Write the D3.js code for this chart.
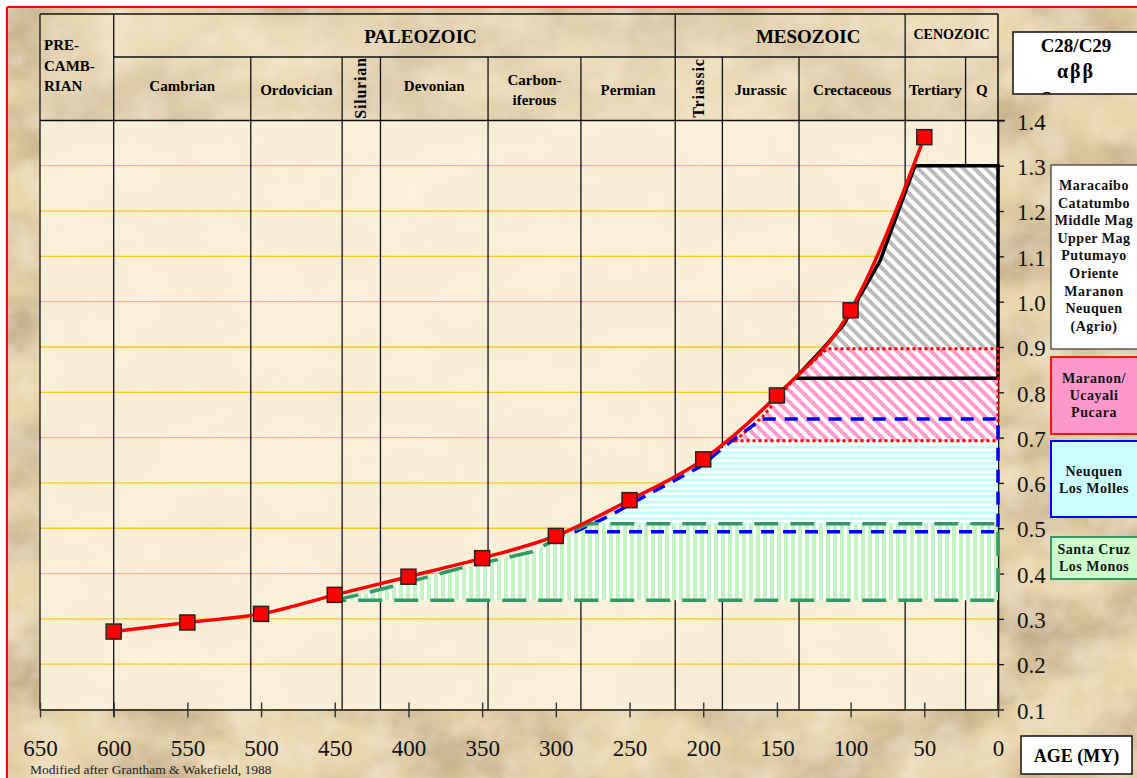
<!DOCTYPE html>
<html>
<head>
<meta charset="utf-8">
<script src="https://cdn.jsdelivr.net/npm/d3@7"></script>
<style>
  body { margin: 0; background: #fff; }
  svg { display: block; font-family: 'Liberation Serif', 'Times New Roman', serif; }
</style>
</head>
<body>
<div id="chart"></div>
<script>
// sterane ratio through time, with basin bands
const ages = [600, 550, 500, 450, 400, 350, 300, 250, 200, 150, 100, 50]
const steraneRatio = [0.272, 0.292, 0.311, 0.353, 0.393, 0.434, 0.483, 0.562, 0.652, 0.793, 0.981, 1.363]

const ageTicks = [650, 600, 550, 500, 450, 400, 350, 300, 250, 200, 150, 100, 50, 0]
const ratioTicks = [0.1, 0.2, 0.3, 0.4, 0.5, 0.6, 0.7, 0.8, 0.9, 1.0, 1.1, 1.2, 1.3, 1.4]
const gridRatios = [0.2, 0.3, 0.4, 0.5, 0.6, 0.7, 0.8, 0.9, 1.0, 1.1, 1.2, 1.3]

const eraNames = ['PALEOZOIC', 'MESOZOIC', 'CENOZOIC']
const eraBounds = [600, 219, 63, 0]
const periodNames = ['Cambrian', 'Ordovician', 'Silurian', 'Devonian', 'Carbon-|iferous', 'Permian', 'Triassic', 'Jurassic', 'Crectaceous', 'Tertiary', 'Q']
const periodBounds = [600, 507, 445, 419, 346, 283, 219, 187, 135, 63, 22, 0]
const rotatedPeriods = ['Silurian', 'Triassic']

// [age, ratio] outlines of the basin bands
const greyBand = [[137.7, 0.831], [118.7, 0.897], [105, 0.948], [80, 1.09], [56.3, 1.30], [0, 1.30], [0, 0.831]]
const pinkBand = [[178.5, 0.693], [160, 0.745], [138, 0.831], [125, 0.87], [116, 0.896], [0, 0.896], [0, 0.693]]
const blueBand = [[287, 0.492], [265, 0.525], [236, 0.577], [202, 0.636], [180, 0.695], [160, 0.741], [0, 0.741], [0, 0.492]]
const greenBand = [[450, 0.341], [430, 0.356], [412, 0.371], [361, 0.415], [316, 0.448], [288, 0.496], [277, 0.51], [0, 0.51], [0, 0.341]]

const greyBasins = ['Maracaibo', 'Catatumbo', 'Middle Mag', 'Upper Mag', 'Putumayo', 'Oriente', 'Maranon', 'Neuquen', '(Agrio)']
const pinkBasins = ['Maranon/', 'Ucayali', 'Pucara']
const blueBasins = ['Neuquen', 'Los Molles']
const greenBasins = ['Santa Cruz', 'Los Monos']

const width = 1137
const height = 778
const headerTop = 14
const headerMid = 57

var x = d3.scaleLinear().domain([650, 0]).range([40, 998])
var y = d3.scaleLinear().domain([0.1, 1.4]).range([709.5, 120.4])

var svg = d3.select('#chart')
  .append('svg')
  .attr('width', width)
  .attr('height', height)

var defs = svg.append('defs')

// parchment texture
var paper = defs.append('filter')
  .attr('id', 'paper')
  .attr('x', 0).attr('y', 0).attr('width', '100%').attr('height', '100%')
paper.append('feTurbulence')
  .attr('type', 'fractalNoise')
  .attr('baseFrequency', '0.009 0.014')
  .attr('numOctaves', 5)
  .attr('seed', 11)
paper.append('feColorMatrix')
  .attr('type', 'matrix')
  .attr('values', '0 0 0 0 0.55  0 0 0 0 0.42  0 0 0 0 0.25  2.0 0 0 0 -0.68')

var speck = defs.append('filter')
  .attr('id', 'speck')
  .attr('x', 0).attr('y', 0).attr('width', '100%').attr('height', '100%')
speck.append('feTurbulence')
  .attr('type', 'fractalNoise')
  .attr('baseFrequency', '0.03')
  .attr('numOctaves', 3)
  .attr('seed', 4)
speck.append('feColorMatrix')
  .attr('type', 'matrix')
  .attr('values', '0 0 0 0 1  0 0 0 0 0.96  0 0 0 0 0.9  1.4 0 0 0 -0.55')

function addStripes(id, color, size, stripe, angle) {
  var p = defs.append('pattern')
    .attr('id', id)
    .attr('patternUnits', 'userSpaceOnUse')
    .attr('width', size)
    .attr('height', size)
    .attr('patternTransform', 'rotate(' + angle + ')')
  p.append('rect').attr('width', size).attr('height', size).attr('fill', '#fff')
  p.append('rect').attr('width', stripe).attr('height', size).attr('fill', color)
}
addStripes('hatchGrey', '#bcbcbc', 8, 4, -45)
addStripes('hatchPink', '#ff9ccf', 8, 4, -45)
addStripes('hatchBlue', '#c4ffff', 5.5, 3, 90)
addStripes('hatchGreen', '#c4f3c4', 7, 4, 0)

// background
svg.append('rect').attr('width', width).attr('height', height).attr('fill', '#fff')
svg.append('rect').attr('x', 7).attr('y', 7).attr('width', width - 7).attr('height', height - 7).attr('fill', '#e9d6ae')
svg.append('rect').attr('x', 7).attr('y', 7).attr('width', width - 7).attr('height', height - 7).attr('filter', 'url(#paper)')
svg.append('rect').attr('x', 7).attr('y', 7).attr('width', width - 7).attr('height', height - 7).attr('filter', 'url(#speck)').attr('opacity', 0.55)
svg.append('line').attr('x1', 7).attr('x2', width).attr('y1', 7).attr('y2', 7).attr('stroke', '#ff0000').attr('stroke-width', 2)
svg.append('line').attr('x1', 7).attr('x2', 7).attr('y1', 7).attr('y2', height).attr('stroke', '#ff0000').attr('stroke-width', 2)

// header and plot panels
svg.append('rect')
  .attr('x', x(650)).attr('y', headerTop)
  .attr('width', x(0) - x(650)).attr('height', y(1.4) - headerTop)
  .attr('fill', '#f6ebd0').attr('opacity', 0.35)
svg.append('rect')
  .attr('x', x(650)).attr('y', y(1.4))
  .attr('width', x(0) - x(650)).attr('height', y(0.1) - y(1.4))
  .attr('fill', '#fdf3e0').attr('opacity', 0.86)

// gold grid lines
svg.selectAll('.grid')
  .data(gridRatios)
  .enter()
  .append('line')
  .attr('class', 'grid')
  .attr('x1', x(650)).attr('x2', x(0))
  .attr('y1', y).attr('y2', y)
  .attr('stroke', '#f7c81e')
  .attr('stroke-width', 1.3)

// period boundaries run through header and plot
var eraLines = eraBounds.slice(0, -1)
svg.selectAll('.periodLine')
  .data(periodBounds.slice(1, -1))
  .enter()
  .append('line')
  .attr('class', 'periodLine')
  .attr('x1', x).attr('x2', x)
  .attr('y1', function(d) { return eraLines.indexOf(d) >= 0 ? headerTop : headerMid })
  .attr('y2', y(0.1))
  .attr('stroke', '#111')
  .attr('stroke-width', 1.3)
svg.append('line').attr('x1', x(600)).attr('x2', x(600)).attr('y1', headerTop).attr('y2', y(0.1) + 7).attr('stroke', '#111').attr('stroke-width', 1.3)
svg.append('line').attr('x1', x(650)).attr('x2', x(650)).attr('y1', headerTop).attr('y2', y(0.1)).attr('stroke', '#111').attr('stroke-width', 1.3)
svg.append('line').attr('x1', x(0)).attr('x2', x(0)).attr('y1', headerTop).attr('y2', y(0.1)).attr('stroke', '#111').attr('stroke-width', 1.5)
svg.append('line').attr('x1', x(650)).attr('x2', x(0)).attr('y1', headerTop).attr('y2', headerTop).attr('stroke', '#111').attr('stroke-width', 1.3)
svg.append('line').attr('x1', x(600)).attr('x2', x(0)).attr('y1', headerMid).attr('y2', headerMid).attr('stroke', '#111').attr('stroke-width', 1.3)
svg.append('line').attr('x1', x(650)).attr('x2', x(0) + 7).attr('y1', y(1.4)).attr('y2', y(1.4)).attr('stroke', '#111').attr('stroke-width', 1.5)

// header labels
svg.selectAll('.pre')
  .data(['PRE-', 'CAMB-', 'RIAN'])
  .enter()
  .append('text')
  .attr('class', 'pre')
  .attr('x', x(650) + 4)
  .attr('y', function(d, i) { return 50 + i * 20.5 })
  .attr('font-size', 15).attr('font-weight', 'bold')
  .text(function(d) { return d })

var eraShift = [26, 18, 0]
svg.selectAll('.era')
  .data(eraNames)
  .enter()
  .append('text')
  .attr('class', 'era')
  .attr('x', function(d, i) { return (x(eraBounds[i]) + x(eraBounds[i + 1])) / 2 + eraShift[i] })
  .attr('y', function(d, i) { return i === 2 ? 39 : 43 })
  .attr('text-anchor', 'middle')
  .attr('font-size', function(d, i) { return i === 2 ? 14 : 19 })
  .attr('font-weight', 'bold')
  .text(function(d) { return d })

var periodText = svg.selectAll('.period')
  .data(periodNames)
  .enter()
  .append('text')
  .attr('class', 'period')
  .attr('font-size', 15)
  .attr('font-weight', 'bold')
  .attr('text-anchor', 'middle')
  .attr('transform', function(d, i) {
    var cx = (x(periodBounds[i]) + x(periodBounds[i + 1])) / 2
    if (rotatedPeriods.indexOf(d) >= 0) {
      return 'translate(' + (cx + 5) + ',88) rotate(-90)'
    }
    return 'translate(' + cx + ',' + (d === 'Cambrian' || d === 'Devonian' ? 91 : 95) + ')'
  })
periodText.each(function(d) {
  var parts = d.split('|')
  var t = d3.select(this)
  if (parts.length > 1) {
    t.append('tspan').attr('x', 0).attr('y', -10).text(parts[0])
    t.append('tspan').attr('x', 0).attr('y', 10).text(parts[1])
  } else {
    t.text(d)
  }
})
periodText.filter(function(d) { return rotatedPeriods.indexOf(d) >= 0 })
  .attr('font-size', 16)
  .attr('letter-spacing', 0.8)

// axes sit under the bands
var yAxis = svg.append('g')
  .attr('transform', 'translate(' + x(0) + ',0)')
  .call(d3.axisRight(y).tickValues(ratioTicks).tickSize(6).tickSizeOuter(0).tickPadding(13).tickFormat(d3.format('.1f')))
yAxis.select('.domain').attr('stroke', '#111').attr('stroke-width', 1.5)
yAxis.selectAll('.tick line').attr('stroke', '#111').attr('stroke-width', 1.3)
yAxis.selectAll('text')
  .attr('font-size', 23)
  .attr('font-family', "'Liberation Serif', 'Times New Roman', serif")
  .attr('fill', '#111')
  .attr('dy', '0.38em')

var xAxis = svg.append('g')
  .attr('transform', 'translate(0,' + y(0.1) + ')')
  .call(d3.axisBottom(x).tickValues(ageTicks).tickSize(8).tickSizeOuter(0).tickPadding(22).tickFormat(d3.format('d')))
xAxis.select('.domain').attr('stroke', '#111').attr('stroke-width', 1.5)
xAxis.selectAll('.tick line').attr('y1', -7).attr('stroke', '#333').attr('stroke-width', 1.4)
xAxis.selectAll('text')
  .attr('font-size', 23)
  .attr('font-family', "'Liberation Serif', 'Times New Roman', serif")
  .attr('fill', '#111')

// basin bands
var bandPath = d3.line()
  .x(function(d) { return x(d[0]) })
  .y(function(d) { return y(d[1]) })
var bands = [
  { pts: greyBand, fill: 'url(#hatchGrey)' },
  { pts: blueBand, fill: 'url(#hatchBlue)' },
  { pts: pinkBand, fill: 'url(#hatchPink)' },
  { pts: greenBand, fill: 'url(#hatchGreen)' }
]
svg.selectAll('.bandFill')
  .data(bands)
  .enter()
  .append('path')
  .attr('class', 'bandFill')
  .attr('d', function(d) { return bandPath(d.pts) + 'Z' })
  .attr('fill', function(d) { return d.fill })

var outlines = [
  { pts: greyBand, color: '#000', dash: null, w: 3.5 },
  { pts: pinkBand, color: '#ff0000', dash: '3 3', w: 3 },
  { pts: blueBand, color: '#0000ff', dash: '13 9', w: 3.5 },
  { pts: greenBand, color: '#339966', dash: '24 12', w: 3.5 }
]
svg.selectAll('.bandLine')
  .data(outlines)
  .enter()
  .append('path')
  .attr('class', 'bandLine')
  .attr('d', function(d) { return bandPath(d.pts) + 'Z' })
  .attr('fill', 'none')
  .attr('stroke', function(d) { return d.color })
  .attr('stroke-width', function(d) { return d.w })
  .attr('stroke-dasharray', function(d) { return d.dash })

// ratio curve
var points = ages.map(function(a, i) { return [a, steraneRatio[i]] })
svg.append('path')
  .attr('d', d3.line()
    .x(function(d) { return x(d[0]) })
    .y(function(d) { return y(d[1]) })
    .curve(d3.curveMonotoneX)(points))
  .attr('fill', 'none')
  .attr('stroke', '#ff0000')
  .attr('stroke-width', 3.5)

svg.selectAll('.marker')
  .data(points)
  .enter()
  .append('rect')
  .attr('class', 'marker')
  .attr('x', function(d) { return x(d[0]) - 7.5 })
  .attr('y', function(d) { return y(d[1]) - 7.5 })
  .attr('width', 15)
  .attr('height', 15)
  .attr('fill', '#ff0000')
  .attr('stroke', '#2a2222')
  .attr('stroke-width', 1.5)

// legend boxes on the right
defs.append('clipPath').attr('id', 'titleClip')
  .append('rect').attr('x', 1013).attr('y', 32).attr('width', 130).attr('height', 62)
svg.append('rect')
  .attr('x', 1013).attr('y', 32).attr('width', 140).attr('height', 62)
  .attr('fill', '#fff').attr('stroke', '#111').attr('stroke-width', 1.5)
var title = svg.append('g').attr('clip-path', 'url(#titleClip)')
title.append('text').attr('x', 1076).attr('y', 52).attr('text-anchor', 'middle')
  .attr('font-size', 19).attr('font-weight', 'bold').text('C28/C29')
title.append('text').attr('x', 1076).attr('y', 78).attr('text-anchor', 'middle')
  .attr('font-size', 20).attr('font-weight', 'bold').attr('letter-spacing', 2).text('αββ')
title.append('text').attr('x', 1076).attr('y', 105).attr('text-anchor', 'middle')
  .attr('font-size', 19).attr('font-weight', 'bold').text('Steranes')

function legendBox(names, top, h, fill, stroke, sw, firstY, step) {
  svg.append('rect')
    .attr('x', 1051).attr('y', top).attr('width', 100).attr('height', h)
    .attr('fill', fill).attr('stroke', stroke).attr('stroke-width', sw)
  svg.selectAll(null)
    .data(names)
    .enter()
    .append('text')
    .attr('x', 1094)
    .attr('y', function(d, i) { return firstY + i * step })
    .attr('text-anchor', 'middle')
    .attr('font-size', 14)
    .attr('font-weight', 'bold')
    .attr('letter-spacing', 0.5)
    .attr('fill', '#111')
    .text(function(d) { return d })
}
legendBox(greyBasins, 165, 184, '#fff', '#333', 1.2, 190, 17.6)
legendBox(pinkBasins, 357, 77, '#ff99cc', '#ff0000', 1.8, 383, 17)
legendBox(blueBasins, 441, 76, '#ccffff', '#0000ff', 2, 476, 16.5)
legendBox(greenBasins, 537, 42, '#ccffcc', '#339966', 2, 554, 17)

// age label box and credit
svg.append('rect')
  .attr('x', 1021).attr('y', 736).attr('width', 111).attr('height', 38)
  .attr('fill', '#fff').attr('stroke', '#111').attr('stroke-width', 1.5)
svg.append('text')
  .attr('x', 1076.5).attr('y', 761.5)
  .attr('text-anchor', 'middle')
  .attr('font-size', 18).attr('font-weight', 'bold')
  .text('AGE (MY)')
svg.append('text')
  .attr('x', 30).attr('y', 774)
  .attr('font-size', 13.5)
  .attr('fill', '#222')
  .text('Modified after Grantham & Wakefield, 1988')
</script>
</body>
</html>
